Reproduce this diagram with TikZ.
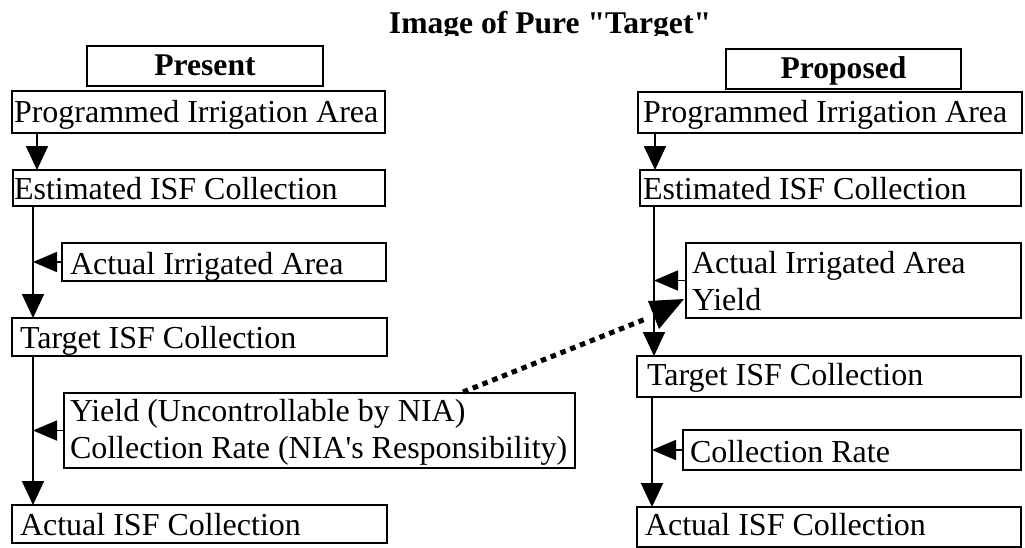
\documentclass[tikz,border=0pt]{standalone}
\usepackage{fontspec}
\setmainfont{Liberation Serif}[Ligatures=TeXOff]
\usetikzlibrary{arrows.meta}

\tikzset{
  box/.style={draw, line width=1.3pt, inner sep=0pt, outer sep=0pt, anchor=north west},
  thickbox/.style={box, line width=2.6pt},
  txt/.style={inner sep=0pt, outer sep=0pt, anchor=base west, align=left,
              font=\fontsize{32}{36.5}\selectfont},
  head/.style={inner sep=0pt, outer sep=0pt, font=\bfseries\fontsize{31.6}{34}\selectfont},
  flow/.style={line width=1.8pt, -{Triangle[length=24pt,width=22pt]}},
  side/.style={line width=1.8pt, -{Triangle[length=24pt,width=20pt]}},
  link/.style={line width=5pt, dash pattern=on 5.5pt off 5pt}
}

\begin{document}
\begin{tikzpicture}[x=1pt,y=-1pt]
\useasboundingbox (0,0) rectangle (1025,547);

% heading, its descenders cut off at the top band
\begin{scope}
  \clip (0,0) rectangle (1025,35);
  \node[head, anchor=base] (title) at (550,33) {Image of Pure "Target"};
\end{scope}

% ---------- present procedure ----------
\node[box, minimum width=236pt, minimum height=40pt] (presB) at (87,46) {};
\node[head, anchor=base] (pres) at (205,75) {Present};

\node[box, minimum width=373pt, minimum height=42pt] (pL) at (12,91) {};
\node[txt] (pLt) at (14,122) {Programmed Irrigation Area};

\node[thickbox, minimum width=372pt, minimum height=36pt] (eL) at (13,170) {};
\node[txt] (eLt) at (14,199) {Estimated ISF Collection};

\node[box, minimum width=324pt, minimum height=38pt] (aL) at (62,243) {};
\node[txt] (aLt) at (70,274) {Actual Irrigated Area};

\node[box, minimum width=375pt, minimum height=38pt] (tL) at (12,318) {};
\node[txt] (tLt) at (20,348) {Target ISF Collection};

\node[box, minimum width=511pt, minimum height=75pt] (yL) at (64,393) {};
% multi-line text: the base anchor sits on the last line
\node[txt] (yLt) at (70,458) {Yield (Uncontrollable by NIA)\\Collection Rate (NIA's Responsibility)};

\node[box, minimum width=375pt, minimum height=38pt] (cL) at (12,505) {};
\node[txt] (cLt) at (20,535) {Actual ISF Collection};

\coordinate (sL1) at (37,0);
\coordinate (sL2) at (33,0);
\draw[flow] (pL.south -| sL1) -- (eL.north -| sL1);
\draw[flow] (eL.south -| sL2) -- (tL.north -| sL2);
\draw[side] (aL.west) -- (aL.west -| sL2);
\draw[flow] (tL.south -| sL2) -- (cL.north -| sL2);
\draw[side] (yL.west) -- (yL.west -| sL2);

% ---------- proposed procedure ----------
\node[box, minimum width=235pt, minimum height=40pt] (propB) at (726,49) {};
\node[head, anchor=base] (prop) at (843.5,78) {Proposed};

\node[box, minimum width=384pt, minimum height=41pt] (pR) at (638,92) {};
\node[txt] (pRt) at (643,122) {Programmed Irrigation Area};

\node[thickbox, minimum width=381pt, minimum height=36pt] (eR) at (640,170) {};
\node[txt] (eRt) at (643,199) {Estimated ISF Collection};

\node[thickbox, minimum width=335pt, minimum height=75pt] (aR) at (686,243) {};
\node[txt] (aRt) at (692,310) {Actual Irrigated Area\\Yield};

\node[box, minimum width=384pt, minimum height=41pt] (tR) at (637,356) {};
\node[txt] (tRt) at (647,385) {Target ISF Collection};

\node[box, minimum width=338pt, minimum height=40pt] (rR) at (683,430) {};
\node[txt] (rRt) at (690,462) {Collection Rate};

\node[thickbox, minimum width=384pt, minimum height=40pt] (cR) at (637,507) {};
\node[txt] (cRt) at (645,535) {Actual ISF Collection};

\coordinate (sR1) at (655,0);
\coordinate (sR2) at (654,0);
\coordinate (sR3) at (652,0);
\draw[flow] (pR.south -| sR1) -- (eR.north -| sR1);
\draw[flow] (eR.south -| sR2) -- (tR.north -| sR2);
\draw[side] (aR.west) -- (aR.west -| sR2);
\draw[flow] (tR.south -| sR3) -- (cR.north -| sR3);
\draw[side] (rR.west) -- (rR.west -| sR3);

% ---------- yield moves from the uncontrollable factors into the plan ----------
\coordinate (linkA) at (463,392);
\coordinate (linkB) at (648,318);
\draw[link] (linkA) -- (linkB);
\fill (648,301) -- (684,299) -- (659,329) -- cycle;

\end{tikzpicture}
\end{document}
